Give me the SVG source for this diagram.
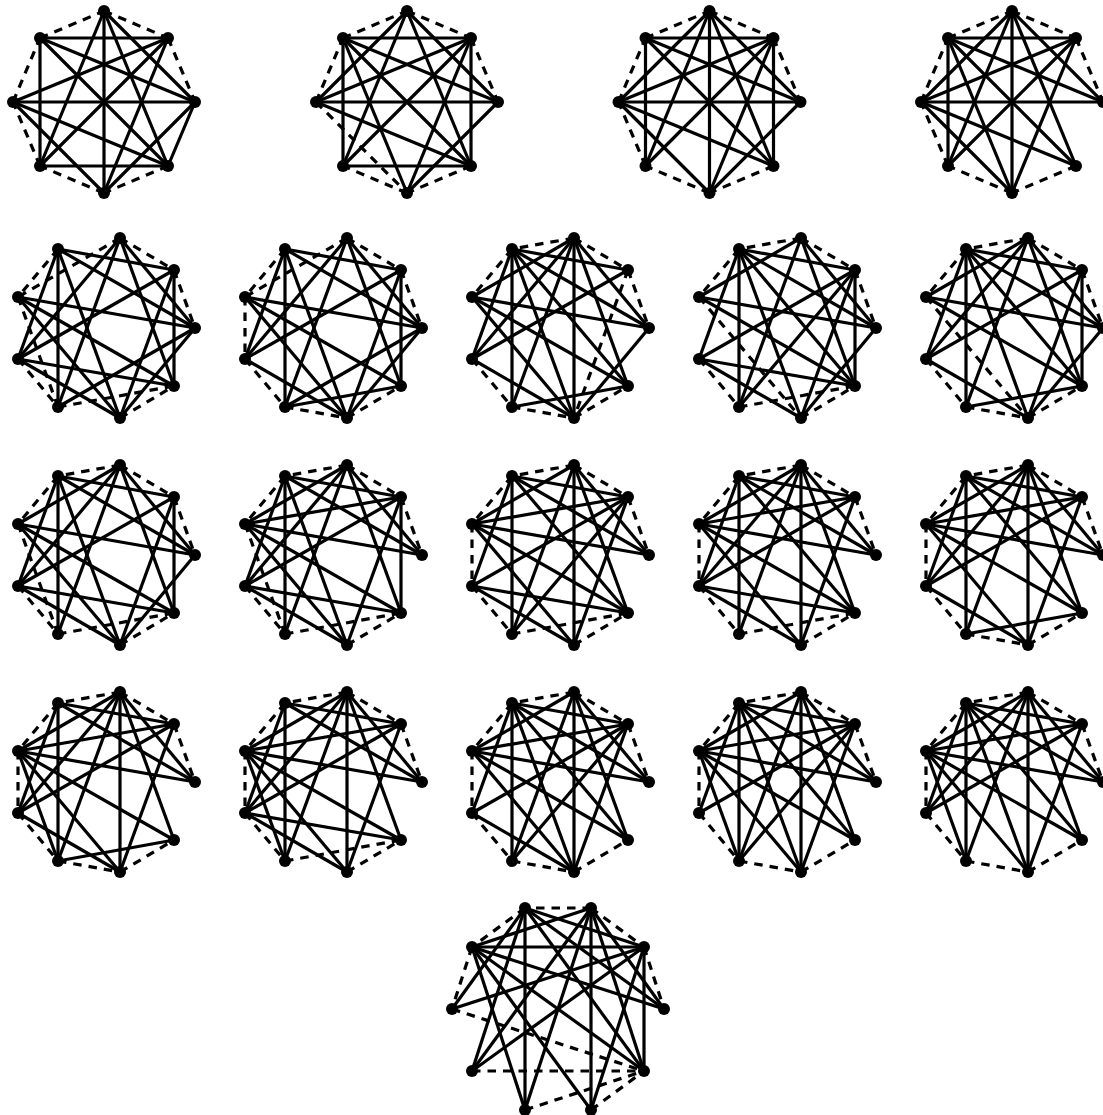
<svg xmlns="http://www.w3.org/2000/svg" width="1103" height="1115" viewBox="0 0 1103 1115">
<style>
path{fill:none;stroke:#000;stroke-width:3.2}
.d path{stroke-dasharray:8.5 7}
circle{fill:#000}
</style>
<rect width="1103" height="1115" fill="#fff"/>
<g id="graph-01" transform="translate(104,102)">
<g class="connectors s"><path d="M91 0L64 64"/><path d="M-64-64L64-64"/><path d="M-64-64L-64 64"/><path d="M-64 64L64 64"/><path d="M-64-64L64 64"/><path d="M64-64L-64 64"/><path d="M-91 0L91 0"/><path d="M0-91L0 91"/><path d="M0-91L-64 64"/><path d="M0-91L64 64"/><path d="M0-91L91 0"/><path d="M-64-64L91 0"/><path d="M64-64L-91 0"/><path d="M64-64L0 91"/><path d="M-91 0L64 64"/><path d="M-91 0L0 91"/><path d="M91 0L0 91"/></g>
<g class="connectors d"><path d="M0-91L64-64"/><path d="M64-64L91 0"/><path d="M64 64L0 91"/><path d="M0 91L-64 64"/><path d="M-64 64L-91 0"/><path d="M-91 0L-64-64"/><path d="M-64-64L0-91"/></g>
<g id="n01-0"><circle cx="0" cy="-91" r="6"/></g><g id="n01-1"><circle cx="64" cy="-64" r="6"/></g><g id="n01-2"><circle cx="91" cy="0" r="6"/></g><g id="n01-3"><circle cx="64" cy="64" r="6"/></g><g id="n01-4"><circle cx="0" cy="91" r="6"/></g><g id="n01-5"><circle cx="-64" cy="64" r="6"/></g><g id="n01-6"><circle cx="-91" cy="0" r="6"/></g><g id="n01-7"><circle cx="-64" cy="-64" r="6"/></g>
</g>
<g id="graph-02" transform="translate(407,102)">
<g class="connectors s"><path d="M-64-64L64-64"/><path d="M-64-64L-64 64"/><path d="M64-64L64 64"/><path d="M-64 64L64 64"/><path d="M-64-64L64 64"/><path d="M64-64L-64 64"/><path d="M-91 0L91 0"/><path d="M0-91L-91 0"/><path d="M0-91L-64 64"/><path d="M0-91L64 64"/><path d="M0-91L91 0"/><path d="M-64-64L91 0"/><path d="M-64-64L0 91"/><path d="M64-64L-91 0"/><path d="M64-64L0 91"/><path d="M-91 0L64 64"/><path d="M91 0L0 91"/></g>
<g class="connectors d"><path d="M0-91L64-64"/><path d="M64-64L91 0"/><path d="M64 64L0 91"/><path d="M0 91L-64 64"/><path d="M-91 0L0 91"/><path d="M-91 0L-64-64"/><path d="M-64-64L0-91"/></g>
<g id="n02-0"><circle cx="0" cy="-91" r="6"/></g><g id="n02-1"><circle cx="64" cy="-64" r="6"/></g><g id="n02-2"><circle cx="91" cy="0" r="6"/></g><g id="n02-3"><circle cx="64" cy="64" r="6"/></g><g id="n02-4"><circle cx="0" cy="91" r="6"/></g><g id="n02-5"><circle cx="-64" cy="64" r="6"/></g><g id="n02-6"><circle cx="-91" cy="0" r="6"/></g><g id="n02-7"><circle cx="-64" cy="-64" r="6"/></g>
</g>
<g id="graph-03" transform="translate(709.5,102)">
<g class="connectors s"><path d="M-64-64L64-64"/><path d="M-64-64L-64 64"/><path d="M64-64L64 64"/><path d="M-64-64L64 64"/><path d="M64-64L-64 64"/><path d="M-91 0L91 0"/><path d="M0-91L-91 0"/><path d="M0-91L0 91"/><path d="M0-91L-64 64"/><path d="M0-91L64 64"/><path d="M0-91L91 0"/><path d="M-64-64L91 0"/><path d="M64-64L-91 0"/><path d="M64-64L0 91"/><path d="M-91 0L64 64"/><path d="M-91 0L0 91"/><path d="M91 0L0 91"/></g>
<g class="connectors d"><path d="M0-91L64-64"/><path d="M64-64L91 0"/><path d="M64 64L0 91"/><path d="M0 91L-64 64"/><path d="M-64 64L-91 0"/><path d="M-91 0L-64-64"/><path d="M-64-64L0-91"/></g>
<g id="n03-0"><circle cx="0" cy="-91" r="6"/></g><g id="n03-1"><circle cx="64" cy="-64" r="6"/></g><g id="n03-2"><circle cx="91" cy="0" r="6"/></g><g id="n03-3"><circle cx="64" cy="64" r="6"/></g><g id="n03-4"><circle cx="0" cy="91" r="6"/></g><g id="n03-5"><circle cx="-64" cy="64" r="6"/></g><g id="n03-6"><circle cx="-91" cy="0" r="6"/></g><g id="n03-7"><circle cx="-64" cy="-64" r="6"/></g>
</g>
<g id="graph-04" transform="translate(1012,102)">
<g class="connectors s"><path d="M-64-64L64-64"/><path d="M-64-64L-64 64"/><path d="M-64-64L64 64"/><path d="M-64-64L0 91"/><path d="M-64-64L91 0"/><path d="M64-64L-64 64"/><path d="M64-64L-91 0"/><path d="M64-64L0 91"/><path d="M0-91L-91 0"/><path d="M0-91L-64 64"/><path d="M0-91L0 91"/><path d="M0-91L64 64"/><path d="M0-91L91 0"/><path d="M-91 0L91 0"/><path d="M-91 0L64 64"/><path d="M-91 0L0 91"/></g>
<g class="connectors d"><path d="M0-91L64-64"/><path d="M64-64L91 0"/><path d="M64 64L0 91"/><path d="M0 91L-64 64"/><path d="M-64 64L-91 0"/><path d="M-91 0L-64-64"/><path d="M-64-64L0-91"/></g>
<g id="n04-0"><circle cx="0" cy="-91" r="6"/></g><g id="n04-1"><circle cx="64" cy="-64" r="6"/></g><g id="n04-2"><circle cx="91" cy="0" r="6"/></g><g id="n04-3"><circle cx="64" cy="64" r="6"/></g><g id="n04-4"><circle cx="0" cy="91" r="6"/></g><g id="n04-5"><circle cx="-64" cy="64" r="6"/></g><g id="n04-6"><circle cx="-91" cy="0" r="6"/></g><g id="n04-7"><circle cx="-64" cy="-64" r="6"/></g>
</g>
<g id="graph-05" transform="translate(104,328)">
<g class="connectors s"><path d="M-46-79L70-58"/><path d="M-46-79L-46 79"/><path d="M-46-79L91 0"/><path d="M-46-79L16 90"/><path d="M-46-79L-86 31"/><path d="M16-90L-86 31"/><path d="M16-90L-46 79"/><path d="M16-90L70 58"/><path d="M16-90L91 0"/><path d="M70-58L70 58"/><path d="M70-58L16 90"/><path d="M70-58L-86 31"/><path d="M91 0L-86-31"/><path d="M91 0L-46 79"/><path d="M91 0L16 90"/><path d="M-86-31L16 90"/><path d="M-86-31L70 58"/><path d="M-86 31L70 58"/><path d="M-86 31L16 90"/></g>
<g class="connectors d"><path d="M-46-79L-86-31"/><path d="M16-90L-86-31"/><path d="M16-90L70-58"/><path d="M70-58L91 0"/><path d="M-86-31L-46 79"/><path d="M-86 31L-46 79"/><path d="M-46 79L70 58"/><path d="M16 90L70 58"/></g>
<g id="n05-0"><circle cx="91" cy="0" r="6"/></g><g id="n05-1"><circle cx="70" cy="-58" r="6"/></g><g id="n05-2"><circle cx="16" cy="-90" r="6"/></g><g id="n05-3"><circle cx="-46" cy="-79" r="6"/></g><g id="n05-4"><circle cx="-86" cy="-31" r="6"/></g><g id="n05-5"><circle cx="-86" cy="31" r="6"/></g><g id="n05-6"><circle cx="-46" cy="79" r="6"/></g><g id="n05-7"><circle cx="16" cy="90" r="6"/></g><g id="n05-8"><circle cx="70" cy="58" r="6"/></g>
</g>
<g id="graph-06" transform="translate(331,328)">
<g class="connectors s"><path d="M-46-79L70-58"/><path d="M-46-79L-46 79"/><path d="M-46-79L91 0"/><path d="M-46-79L16 90"/><path d="M-46-79L-86 31"/><path d="M16-90L-86 31"/><path d="M16-90L-46 79"/><path d="M16-90L70 58"/><path d="M16-90L91 0"/><path d="M70-58L70 58"/><path d="M70-58L16 90"/><path d="M70-58L-86 31"/><path d="M91 0L-86-31"/><path d="M91 0L-46 79"/><path d="M91 0L16 90"/><path d="M-86-31L16 90"/><path d="M-86-31L70 58"/><path d="M-46 79L70 58"/><path d="M-86 31L16 90"/></g>
<g class="connectors d"><path d="M16-90L-86-31"/><path d="M-46-79L-86-31"/><path d="M16-90L70-58"/><path d="M70-58L91 0"/><path d="M-86-31L-86 31"/><path d="M-86 31L-46 79"/><path d="M-46 79L16 90"/><path d="M16 90L70 58"/></g>
<g id="n06-0"><circle cx="91" cy="0" r="6"/></g><g id="n06-1"><circle cx="70" cy="-58" r="6"/></g><g id="n06-2"><circle cx="16" cy="-90" r="6"/></g><g id="n06-3"><circle cx="-46" cy="-79" r="6"/></g><g id="n06-4"><circle cx="-86" cy="-31" r="6"/></g><g id="n06-5"><circle cx="-86" cy="31" r="6"/></g><g id="n06-6"><circle cx="-46" cy="79" r="6"/></g><g id="n06-7"><circle cx="16" cy="90" r="6"/></g><g id="n06-8"><circle cx="70" cy="58" r="6"/></g>
</g>
<g id="graph-07" transform="translate(558,328)">
<g class="connectors s"><path d="M-46-79L70-58"/><path d="M-46-79L91 0"/><path d="M-46-79L70 58"/><path d="M-46-79L-46 79"/><path d="M-46-79L-86 31"/><path d="M-46-79L16 90"/><path d="M16-90L-86-31"/><path d="M16-90L-86 31"/><path d="M16-90L-46 79"/><path d="M16-90L16 90"/><path d="M16-90L70 58"/><path d="M16-90L91 0"/><path d="M70-58L-86 31"/><path d="M91 0L-86-31"/><path d="M91 0L16 90"/><path d="M-86-31L16 90"/><path d="M-86-31L70 58"/><path d="M-86 31L16 90"/><path d="M-46 79L70 58"/></g>
<g class="connectors d"><path d="M16-90L-46-79"/><path d="M-46-79L-86-31"/><path d="M16-90L70-58"/><path d="M70-58L91 0"/><path d="M70-58L16 90"/><path d="M-86 31L-46 79"/><path d="M-46 79L16 90"/><path d="M16 90L70 58"/></g>
<g id="n07-0"><circle cx="91" cy="0" r="6"/></g><g id="n07-1"><circle cx="70" cy="-58" r="6"/></g><g id="n07-2"><circle cx="16" cy="-90" r="6"/></g><g id="n07-3"><circle cx="-46" cy="-79" r="6"/></g><g id="n07-4"><circle cx="-86" cy="-31" r="6"/></g><g id="n07-5"><circle cx="-86" cy="31" r="6"/></g><g id="n07-6"><circle cx="-46" cy="79" r="6"/></g><g id="n07-7"><circle cx="16" cy="90" r="6"/></g><g id="n07-8"><circle cx="70" cy="58" r="6"/></g>
</g>
<g id="graph-08" transform="translate(785,328)">
<g class="connectors s"><path d="M-46-79L70-58"/><path d="M-46-79L91 0"/><path d="M-46-79L70 58"/><path d="M-46-79L-46 79"/><path d="M-46-79L-86 31"/><path d="M-46-79L16 90"/><path d="M16-90L-86-31"/><path d="M16-90L-46 79"/><path d="M16-90L70 58"/><path d="M16-90L91 0"/><path d="M70-58L-86 31"/><path d="M70-58L-46 79"/><path d="M70-58L16 90"/><path d="M70-58L70 58"/><path d="M91 0L-86-31"/><path d="M91 0L16 90"/><path d="M-86-31L70 58"/><path d="M-86 31L70 58"/><path d="M-86 31L16 90"/></g>
<g class="connectors d"><path d="M16-90L-46-79"/><path d="M-46-79L-86-31"/><path d="M16-90L70-58"/><path d="M70-58L91 0"/><path d="M-86-31L16 90"/><path d="M-86 31L-46 79"/><path d="M-46 79L70 58"/><path d="M16 90L70 58"/></g>
<g id="n08-0"><circle cx="91" cy="0" r="6"/></g><g id="n08-1"><circle cx="70" cy="-58" r="6"/></g><g id="n08-2"><circle cx="16" cy="-90" r="6"/></g><g id="n08-3"><circle cx="-46" cy="-79" r="6"/></g><g id="n08-4"><circle cx="-86" cy="-31" r="6"/></g><g id="n08-5"><circle cx="-86" cy="31" r="6"/></g><g id="n08-6"><circle cx="-46" cy="79" r="6"/></g><g id="n08-7"><circle cx="16" cy="90" r="6"/></g><g id="n08-8"><circle cx="70" cy="58" r="6"/></g>
</g>
<g id="graph-09" transform="translate(1012,328)">
<g class="connectors s"><path d="M-46-79L70-58"/><path d="M-46-79L91 0"/><path d="M-46-79L70 58"/><path d="M-46-79L-46 79"/><path d="M-46-79L-86 31"/><path d="M-46-79L16 90"/><path d="M16-90L-86-31"/><path d="M16-90L-86 31"/><path d="M16-90L-46 79"/><path d="M16-90L70 58"/><path d="M16-90L91 0"/><path d="M70-58L-86 31"/><path d="M70-58L16 90"/><path d="M70-58L70 58"/><path d="M91 0L-86-31"/><path d="M91 0L16 90"/><path d="M-86-31L70 58"/><path d="M-86 31L16 90"/><path d="M-46 79L70 58"/></g>
<g class="connectors d"><path d="M16-90L-46-79"/><path d="M-46-79L-86-31"/><path d="M16-90L70-58"/><path d="M70-58L91 0"/><path d="M-86-31L16 90"/><path d="M-86 31L-46 79"/><path d="M-46 79L16 90"/><path d="M16 90L70 58"/></g>
<g id="n09-0"><circle cx="91" cy="0" r="6"/></g><g id="n09-1"><circle cx="70" cy="-58" r="6"/></g><g id="n09-2"><circle cx="16" cy="-90" r="6"/></g><g id="n09-3"><circle cx="-46" cy="-79" r="6"/></g><g id="n09-4"><circle cx="-86" cy="-31" r="6"/></g><g id="n09-5"><circle cx="-86" cy="31" r="6"/></g><g id="n09-6"><circle cx="-46" cy="79" r="6"/></g><g id="n09-7"><circle cx="16" cy="90" r="6"/></g><g id="n09-8"><circle cx="70" cy="58" r="6"/></g>
</g>
<g id="graph-10" transform="translate(104,555)">
<g class="connectors s"><path d="M-46-79L70-58"/><path d="M-46-79L91 0"/><path d="M-46-79L-46 79"/><path d="M-46-79L16 90"/><path d="M-46-79L-86 31"/><path d="M16-90L-86-31"/><path d="M16-90L-86 31"/><path d="M16-90L-46 79"/><path d="M16-90L70 58"/><path d="M16-90L91 0"/><path d="M70-58L-86 31"/><path d="M70-58L16 90"/><path d="M70-58L70 58"/><path d="M91 0L-86-31"/><path d="M91 0L16 90"/><path d="M-86-31L16 90"/><path d="M-86-31L70 58"/><path d="M-86 31L70 58"/><path d="M-86 31L16 90"/></g>
<g class="connectors d"><path d="M16-90L-46-79"/><path d="M-46-79L-86-31"/><path d="M16-90L70-58"/><path d="M70-58L91 0"/><path d="M-86-31L-46 79"/><path d="M-86 31L-46 79"/><path d="M-46 79L70 58"/><path d="M16 90L70 58"/></g>
<g id="n10-0"><circle cx="91" cy="0" r="6"/></g><g id="n10-1"><circle cx="70" cy="-58" r="6"/></g><g id="n10-2"><circle cx="16" cy="-90" r="6"/></g><g id="n10-3"><circle cx="-46" cy="-79" r="6"/></g><g id="n10-4"><circle cx="-86" cy="-31" r="6"/></g><g id="n10-5"><circle cx="-86" cy="31" r="6"/></g><g id="n10-6"><circle cx="-46" cy="79" r="6"/></g><g id="n10-7"><circle cx="16" cy="90" r="6"/></g><g id="n10-8"><circle cx="70" cy="58" r="6"/></g>
</g>
<g id="graph-11" transform="translate(331,555)">
<g class="connectors s"><path d="M-46-79L70-58"/><path d="M-46-79L91 0"/><path d="M-46-79L-46 79"/><path d="M-46-79L16 90"/><path d="M-46-79L-86 31"/><path d="M16-90L-86-31"/><path d="M16-90L-86 31"/><path d="M16-90L-46 79"/><path d="M16-90L70 58"/><path d="M16-90L91 0"/><path d="M70-58L-86-31"/><path d="M70-58L-86 31"/><path d="M70-58L16 90"/><path d="M70-58L70 58"/><path d="M91 0L-86-31"/><path d="M-86-31L16 90"/><path d="M-86-31L70 58"/><path d="M-86 31L16 90"/><path d="M-86 31L70 58"/></g>
<g class="connectors d"><path d="M16-90L-46-79"/><path d="M-46-79L-86-31"/><path d="M16-90L70-58"/><path d="M70-58L91 0"/><path d="M-86-31L-46 79"/><path d="M-86 31L-46 79"/><path d="M-46 79L70 58"/><path d="M16 90L70 58"/></g>
<g id="n11-0"><circle cx="91" cy="0" r="6"/></g><g id="n11-1"><circle cx="70" cy="-58" r="6"/></g><g id="n11-2"><circle cx="16" cy="-90" r="6"/></g><g id="n11-3"><circle cx="-46" cy="-79" r="6"/></g><g id="n11-4"><circle cx="-86" cy="-31" r="6"/></g><g id="n11-5"><circle cx="-86" cy="31" r="6"/></g><g id="n11-6"><circle cx="-46" cy="79" r="6"/></g><g id="n11-7"><circle cx="16" cy="90" r="6"/></g><g id="n11-8"><circle cx="70" cy="58" r="6"/></g>
</g>
<g id="graph-12" transform="translate(558,555)">
<g class="connectors s"><path d="M-46-79L70-58"/><path d="M-46-79L91 0"/><path d="M-46-79L70 58"/><path d="M-46-79L-46 79"/><path d="M-46-79L-86 31"/><path d="M16-90L-86-31"/><path d="M16-90L-46 79"/><path d="M16-90L16 90"/><path d="M16-90L70 58"/><path d="M16-90L91 0"/><path d="M70-58L-86-31"/><path d="M70-58L-86 31"/><path d="M70-58L-46 79"/><path d="M70-58L16 90"/><path d="M91 0L-86-31"/><path d="M-86-31L16 90"/><path d="M-86-31L70 58"/><path d="M-86 31L16 90"/><path d="M-86 31L70 58"/></g>
<g class="connectors d"><path d="M16-90L-46-79"/><path d="M-46-79L-86-31"/><path d="M16-90L70-58"/><path d="M70-58L91 0"/><path d="M-86-31L-86 31"/><path d="M-86 31L-46 79"/><path d="M-46 79L70 58"/><path d="M16 90L70 58"/></g>
<g id="n12-0"><circle cx="91" cy="0" r="6"/></g><g id="n12-1"><circle cx="70" cy="-58" r="6"/></g><g id="n12-2"><circle cx="16" cy="-90" r="6"/></g><g id="n12-3"><circle cx="-46" cy="-79" r="6"/></g><g id="n12-4"><circle cx="-86" cy="-31" r="6"/></g><g id="n12-5"><circle cx="-86" cy="31" r="6"/></g><g id="n12-6"><circle cx="-46" cy="79" r="6"/></g><g id="n12-7"><circle cx="16" cy="90" r="6"/></g><g id="n12-8"><circle cx="70" cy="58" r="6"/></g>
</g>
<g id="graph-13" transform="translate(785,555)">
<g class="connectors s"><path d="M-46-79L70-58"/><path d="M-46-79L91 0"/><path d="M-46-79L70 58"/><path d="M-46-79L-46 79"/><path d="M-46-79L-86 31"/><path d="M16-90L-86-31"/><path d="M16-90L-86 31"/><path d="M16-90L-46 79"/><path d="M16-90L16 90"/><path d="M16-90L70 58"/><path d="M16-90L91 0"/><path d="M70-58L-86-31"/><path d="M70-58L-86 31"/><path d="M70-58L16 90"/><path d="M91 0L-86-31"/><path d="M-86-31L16 90"/><path d="M-86-31L70 58"/><path d="M-86 31L16 90"/><path d="M-86 31L70 58"/></g>
<g class="connectors d"><path d="M16-90L-46-79"/><path d="M-46-79L-86-31"/><path d="M16-90L70-58"/><path d="M70-58L91 0"/><path d="M-86-31L-86 31"/><path d="M-86 31L-46 79"/><path d="M-46 79L70 58"/><path d="M16 90L70 58"/></g>
<g id="n13-0"><circle cx="91" cy="0" r="6"/></g><g id="n13-1"><circle cx="70" cy="-58" r="6"/></g><g id="n13-2"><circle cx="16" cy="-90" r="6"/></g><g id="n13-3"><circle cx="-46" cy="-79" r="6"/></g><g id="n13-4"><circle cx="-86" cy="-31" r="6"/></g><g id="n13-5"><circle cx="-86" cy="31" r="6"/></g><g id="n13-6"><circle cx="-46" cy="79" r="6"/></g><g id="n13-7"><circle cx="16" cy="90" r="6"/></g><g id="n13-8"><circle cx="70" cy="58" r="6"/></g>
</g>
<g id="graph-14" transform="translate(1012,555)">
<g class="connectors s"><path d="M-46-79L70-58"/><path d="M-46-79L91 0"/><path d="M-46-79L70 58"/><path d="M-46-79L-46 79"/><path d="M-46-79L-86 31"/><path d="M16-90L-86-31"/><path d="M16-90L-86 31"/><path d="M16-90L-46 79"/><path d="M16-90L16 90"/><path d="M16-90L70 58"/><path d="M16-90L91 0"/><path d="M70-58L-86-31"/><path d="M70-58L-86 31"/><path d="M70-58L16 90"/><path d="M91 0L-86-31"/><path d="M-86-31L16 90"/><path d="M-86-31L70 58"/><path d="M-86 31L16 90"/><path d="M-46 79L70 58"/></g>
<g class="connectors d"><path d="M16-90L-46-79"/><path d="M-46-79L-86-31"/><path d="M16-90L70-58"/><path d="M70-58L91 0"/><path d="M-86-31L-86 31"/><path d="M-86 31L-46 79"/><path d="M-46 79L16 90"/><path d="M16 90L70 58"/></g>
<g id="n14-0"><circle cx="91" cy="0" r="6"/></g><g id="n14-1"><circle cx="70" cy="-58" r="6"/></g><g id="n14-2"><circle cx="16" cy="-90" r="6"/></g><g id="n14-3"><circle cx="-46" cy="-79" r="6"/></g><g id="n14-4"><circle cx="-86" cy="-31" r="6"/></g><g id="n14-5"><circle cx="-86" cy="31" r="6"/></g><g id="n14-6"><circle cx="-46" cy="79" r="6"/></g><g id="n14-7"><circle cx="16" cy="90" r="6"/></g><g id="n14-8"><circle cx="70" cy="58" r="6"/></g>
</g>
<g id="graph-15" transform="translate(104,782)">
<g class="connectors s"><path d="M-46-79L70-58"/><path d="M-46-79L91 0"/><path d="M-46-79L-46 79"/><path d="M-46-79L-86 31"/><path d="M16-90L-86-31"/><path d="M16-90L-86 31"/><path d="M16-90L-46 79"/><path d="M16-90L16 90"/><path d="M16-90L70 58"/><path d="M16-90L91 0"/><path d="M70-58L-86-31"/><path d="M70-58L-86 31"/><path d="M70-58L16 90"/><path d="M91 0L-86-31"/><path d="M-86-31L-46 79"/><path d="M-86-31L16 90"/><path d="M-86-31L70 58"/><path d="M-86 31L16 90"/><path d="M-46 79L70 58"/></g>
<g class="connectors d"><path d="M16-90L-46-79"/><path d="M-46-79L-86-31"/><path d="M16-90L70-58"/><path d="M70-58L91 0"/><path d="M-86-31L-86 31"/><path d="M-86 31L-46 79"/><path d="M-46 79L16 90"/><path d="M16 90L70 58"/></g>
<g id="n15-0"><circle cx="91" cy="0" r="6"/></g><g id="n15-1"><circle cx="70" cy="-58" r="6"/></g><g id="n15-2"><circle cx="16" cy="-90" r="6"/></g><g id="n15-3"><circle cx="-46" cy="-79" r="6"/></g><g id="n15-4"><circle cx="-86" cy="-31" r="6"/></g><g id="n15-5"><circle cx="-86" cy="31" r="6"/></g><g id="n15-6"><circle cx="-46" cy="79" r="6"/></g><g id="n15-7"><circle cx="16" cy="90" r="6"/></g><g id="n15-8"><circle cx="70" cy="58" r="6"/></g>
</g>
<g id="graph-16" transform="translate(331,782)">
<g class="connectors s"><path d="M-46-79L70-58"/><path d="M-46-79L91 0"/><path d="M-46-79L-46 79"/><path d="M-46-79L-86 31"/><path d="M16-90L-86-31"/><path d="M16-90L-86 31"/><path d="M16-90L-46 79"/><path d="M16-90L16 90"/><path d="M16-90L70 58"/><path d="M16-90L91 0"/><path d="M70-58L-86-31"/><path d="M70-58L-86 31"/><path d="M70-58L16 90"/><path d="M91 0L-86-31"/><path d="M-86-31L-46 79"/><path d="M-86-31L16 90"/><path d="M-86-31L70 58"/><path d="M-86 31L16 90"/><path d="M-86 31L70 58"/></g>
<g class="connectors d"><path d="M16-90L-46-79"/><path d="M-46-79L-86-31"/><path d="M16-90L70-58"/><path d="M70-58L91 0"/><path d="M-86-31L-86 31"/><path d="M-86 31L-46 79"/><path d="M-46 79L70 58"/><path d="M16 90L70 58"/></g>
<g id="n16-0"><circle cx="91" cy="0" r="6"/></g><g id="n16-1"><circle cx="70" cy="-58" r="6"/></g><g id="n16-2"><circle cx="16" cy="-90" r="6"/></g><g id="n16-3"><circle cx="-46" cy="-79" r="6"/></g><g id="n16-4"><circle cx="-86" cy="-31" r="6"/></g><g id="n16-5"><circle cx="-86" cy="31" r="6"/></g><g id="n16-6"><circle cx="-46" cy="79" r="6"/></g><g id="n16-7"><circle cx="16" cy="90" r="6"/></g><g id="n16-8"><circle cx="70" cy="58" r="6"/></g>
</g>
<g id="graph-17" transform="translate(558,782)">
<g class="connectors s"><path d="M-46-79L70-58"/><path d="M-46-79L91 0"/><path d="M-46-79L70 58"/><path d="M-46-79L-46 79"/><path d="M-46-79L-86 31"/><path d="M-46-79L16 90"/><path d="M16-90L-86-31"/><path d="M16-90L-46 79"/><path d="M16-90L16 90"/><path d="M16-90L70 58"/><path d="M16-90L91 0"/><path d="M70-58L-86-31"/><path d="M70-58L-86 31"/><path d="M70-58L-46 79"/><path d="M70-58L16 90"/><path d="M91 0L-86-31"/><path d="M-86-31L16 90"/><path d="M-86-31L70 58"/><path d="M-86 31L16 90"/></g>
<g class="connectors d"><path d="M16-90L-46-79"/><path d="M-46-79L-86-31"/><path d="M16-90L70-58"/><path d="M70-58L91 0"/><path d="M-86-31L-86 31"/><path d="M-86 31L-46 79"/><path d="M-46 79L16 90"/><path d="M16 90L70 58"/></g>
<g id="n17-0"><circle cx="91" cy="0" r="6"/></g><g id="n17-1"><circle cx="70" cy="-58" r="6"/></g><g id="n17-2"><circle cx="16" cy="-90" r="6"/></g><g id="n17-3"><circle cx="-46" cy="-79" r="6"/></g><g id="n17-4"><circle cx="-86" cy="-31" r="6"/></g><g id="n17-5"><circle cx="-86" cy="31" r="6"/></g><g id="n17-6"><circle cx="-46" cy="79" r="6"/></g><g id="n17-7"><circle cx="16" cy="90" r="6"/></g><g id="n17-8"><circle cx="70" cy="58" r="6"/></g>
</g>
<g id="graph-18" transform="translate(785,782)">
<g class="connectors s"><path d="M-46-79L70-58"/><path d="M-46-79L91 0"/><path d="M-46-79L70 58"/><path d="M-46-79L-46 79"/><path d="M-46-79L-86 31"/><path d="M-46-79L16 90"/><path d="M16-90L-86-31"/><path d="M16-90L-46 79"/><path d="M16-90L16 90"/><path d="M16-90L70 58"/><path d="M16-90L91 0"/><path d="M70-58L-86-31"/><path d="M70-58L-86 31"/><path d="M70-58L-46 79"/><path d="M70-58L16 90"/><path d="M91 0L-86-31"/><path d="M-86-31L-46 79"/><path d="M-86-31L16 90"/><path d="M-86-31L70 58"/></g>
<g class="connectors d"><path d="M16-90L-46-79"/><path d="M-46-79L-86-31"/><path d="M16-90L70-58"/><path d="M70-58L91 0"/><path d="M-86-31L-86 31"/><path d="M-86 31L-46 79"/><path d="M-46 79L16 90"/><path d="M16 90L70 58"/></g>
<g id="n18-0"><circle cx="91" cy="0" r="6"/></g><g id="n18-1"><circle cx="70" cy="-58" r="6"/></g><g id="n18-2"><circle cx="16" cy="-90" r="6"/></g><g id="n18-3"><circle cx="-46" cy="-79" r="6"/></g><g id="n18-4"><circle cx="-86" cy="-31" r="6"/></g><g id="n18-5"><circle cx="-86" cy="31" r="6"/></g><g id="n18-6"><circle cx="-46" cy="79" r="6"/></g><g id="n18-7"><circle cx="16" cy="90" r="6"/></g><g id="n18-8"><circle cx="70" cy="58" r="6"/></g>
</g>
<g id="graph-19" transform="translate(1012,782)">
<g class="connectors s"><path d="M-46-79L70-58"/><path d="M-46-79L91 0"/><path d="M-46-79L70 58"/><path d="M-46-79L-46 79"/><path d="M-46-79L-86 31"/><path d="M-46-79L16 90"/><path d="M16-90L-86-31"/><path d="M16-90L-86 31"/><path d="M16-90L-46 79"/><path d="M16-90L16 90"/><path d="M16-90L70 58"/><path d="M16-90L91 0"/><path d="M70-58L-86-31"/><path d="M70-58L-86 31"/><path d="M70-58L16 90"/><path d="M91 0L-86-31"/><path d="M-86-31L-46 79"/><path d="M-86-31L16 90"/><path d="M-86-31L70 58"/></g>
<g class="connectors d"><path d="M16-90L-46-79"/><path d="M-46-79L-86-31"/><path d="M16-90L70-58"/><path d="M70-58L91 0"/><path d="M-86-31L-86 31"/><path d="M-86 31L-46 79"/><path d="M-46 79L16 90"/><path d="M16 90L70 58"/></g>
<g id="n19-0"><circle cx="91" cy="0" r="6"/></g><g id="n19-1"><circle cx="70" cy="-58" r="6"/></g><g id="n19-2"><circle cx="16" cy="-90" r="6"/></g><g id="n19-3"><circle cx="-46" cy="-79" r="6"/></g><g id="n19-4"><circle cx="-86" cy="-31" r="6"/></g><g id="n19-5"><circle cx="-86" cy="31" r="6"/></g><g id="n19-6"><circle cx="-46" cy="79" r="6"/></g><g id="n19-7"><circle cx="16" cy="90" r="6"/></g><g id="n19-8"><circle cx="70" cy="58" r="6"/></g>
</g>
<g id="graph-20" transform="translate(558,1009)">
<g class="connectors s"><path d="M-33-101L86-62"/><path d="M-33-101L106 0"/><path d="M-33-101L86 62"/><path d="M-33-101L-33 101"/><path d="M-33-101L-86 62"/><path d="M-33-101L-106 0"/><path d="M33-101L-86-62"/><path d="M33-101L-86 62"/><path d="M33-101L-33 101"/><path d="M33-101L33 101"/><path d="M33-101L106 0"/><path d="M33-101L86 62"/><path d="M86-62L-86-62"/><path d="M86-62L-106 0"/><path d="M86-62L-86 62"/><path d="M86-62L33 101"/><path d="M86-62L86 62"/><path d="M-86-62L106 0"/><path d="M-86-62L86 62"/><path d="M-86-62L-33 101"/><path d="M-86-62L33 101"/></g>
<g class="connectors d"><path d="M33-101L-33-101"/><path d="M33-101L86-62"/><path d="M86-62L106 0"/><path d="M-33-101L-86-62"/><path d="M-86-62L-106 0"/><path d="M-106 0L86 62"/><path d="M-86 62L86 62"/><path d="M-33 101L86 62"/><path d="M33 101L86 62"/></g>
<g id="n20-0"><circle cx="106" cy="0" r="6"/></g><g id="n20-1"><circle cx="86" cy="-62" r="6"/></g><g id="n20-2"><circle cx="33" cy="-101" r="6"/></g><g id="n20-3"><circle cx="-33" cy="-101" r="6"/></g><g id="n20-4"><circle cx="-86" cy="-62" r="6"/></g><g id="n20-5"><circle cx="-106" cy="0" r="6"/></g><g id="n20-6"><circle cx="-86" cy="62" r="6"/></g><g id="n20-7"><circle cx="-33" cy="101" r="6"/></g><g id="n20-8"><circle cx="33" cy="101" r="6"/></g><g id="n20-9"><circle cx="86" cy="62" r="6"/></g>
</g>
</svg>
